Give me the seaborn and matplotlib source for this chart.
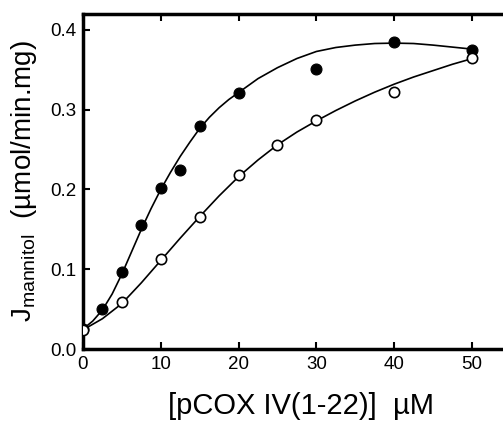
import matplotlib
matplotlib.use("Agg")
import matplotlib.pyplot as plt
import seaborn as sns
import pandas as pd

# measured points
filled_x = [0, 2.5, 5, 7.5, 10, 12.5, 15, 20, 30, 40, 50]
filled_y = [0.025, 0.050, 0.096, 0.155, 0.2015, 0.2245, 0.280, 0.321, 0.351, 0.3845, 0.3745]
open_x = [0, 5, 10, 15, 20, 25, 30, 40, 50]
open_y = [0.024, 0.0585, 0.1125, 0.166, 0.2186, 0.2558, 0.2868, 0.3227, 0.3645]

# fitted curves
filled_curve_x = [0, 1.25, 2.5, 3.75, 5, 6.25, 7.5, 8.75, 10, 11.25, 12.5, 13.75, 15,
                  16.25, 17.5, 18.75, 20, 22.5, 25, 27.5, 30, 32.5, 35, 37.5, 40,
                  42.5, 45, 47.5, 50]
filled_curve_y = [0.025, 0.035, 0.049, 0.069, 0.094, 0.122, 0.150, 0.176, 0.200, 0.2215,
                  0.2415, 0.2595, 0.2765, 0.2905, 0.3025, 0.3128, 0.3215, 0.339, 0.3527,
                  0.3642, 0.373, 0.378, 0.381, 0.383, 0.3835, 0.383, 0.381, 0.3785, 0.376]
open_curve_x = [0, 2.5, 5, 7.5, 10, 12.5, 15, 17.5, 20, 22.5, 25, 27.5, 30, 32.5, 35,
                37.5, 40, 42.5, 45, 47.5, 50]
open_curve_y = [0.024, 0.038, 0.057, 0.083, 0.111, 0.139, 0.166, 0.192, 0.216, 0.237,
                0.256, 0.272, 0.286, 0.299, 0.311, 0.322, 0.332, 0.341, 0.349, 0.357, 0.364]

x_ticks = [0, 10, 20, 30, 40, 50]
y_ticks = [0.0, 0.1, 0.2, 0.3, 0.4]
y_tick_labels = ["0.0", "0.1", "0.2", "0.3", "0.4"]

sns.set_style("ticks")
plt.rcParams['font.family'] = ['Liberation Sans', 'DejaVu Sans']
plt.rcParams['mathtext.fontset'] = 'custom'
plt.rcParams['mathtext.rm'] = 'Liberation Sans'
plt.rcParams['mathtext.it'] = 'Liberation Sans'
plt.rcParams['text.color'] = 'black'
plt.rcParams['axes.labelcolor'] = 'black'
plt.rcParams['xtick.color'] = 'black'
plt.rcParams['ytick.color'] = 'black'

fig = plt.figure(figsize=(5.03, 4.22), dpi=100)
ax = fig.add_axes([83 / 503, 73 / 422, 0.866, 335 / 422])

df_fc = pd.DataFrame({"x": filled_curve_x, "y": filled_curve_y})
df_oc = pd.DataFrame({"x": open_curve_x, "y": open_curve_y})
sns.lineplot(data=df_fc, x="x", y="y", ax=ax, color="black", linewidth=1.2, zorder=2)
sns.lineplot(data=df_oc, x="x", y="y", ax=ax, color="black", linewidth=1.2, zorder=2)

df_f = pd.DataFrame({"x": filled_x, "y": filled_y})
df_o = pd.DataFrame({"x": open_x, "y": open_y})
sns.scatterplot(data=df_f, x="x", y="y", ax=ax, color="black", s=62, edgecolor="black", linewidth=0.8, zorder=3)
sns.scatterplot(data=df_o, x="x", y="y", ax=ax, color="white", s=55, edgecolor="black", linewidth=1.2, zorder=4)

ax.set_xlim(0, 56)
ax.set_ylim(0, 0.42)
ax.set_xticks(x_ticks)
ax.set_xticklabels([str(t) for t in x_ticks])
ax.set_yticks(y_ticks)
ax.set_yticklabels(y_tick_labels)
ax.tick_params(axis='x', direction='in', top=True, bottom=True, length=5, width=1.5, labelsize=13.5, pad=5)
ax.tick_params(axis='y', direction='in', left=True, length=5, width=1.5, labelsize=13.5, pad=5)
for sp in ax.spines.values():
    sp.set_linewidth(2.5)
    sp.set_color("black")

ax.set_xlabel("[pCOX IV(1-22)]  µM", fontsize=21, labelpad=14)
ax.set_ylabel(r"J$_{\mathrm{mannitol}}$  (µmol/min.mg)", fontsize=20, labelpad=8)

fig.savefig("out.png", dpi=100)
